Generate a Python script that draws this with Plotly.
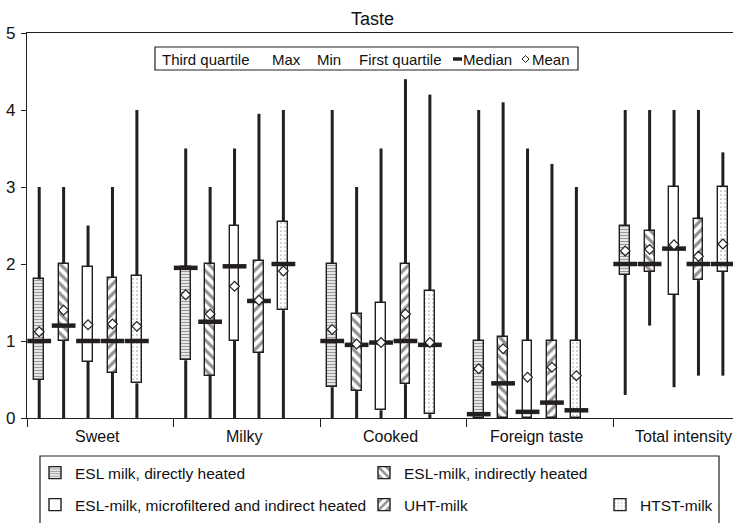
import plotly.graph_objects as go

# ---------------- data ----------------
categories = ["Sweet", "Milky", "Cooked", "Foreign taste", "Total intensity"]
series = ["ESL milk, directly heated", "ESL-milk, indirectly heated",
          "ESL-milk, microfiltered and indirect heated", "UHT-milk", "HTST-milk"]

esl_direct_max = [3.0, 3.5, 4.0, 4.0, 4.0]
esl_direct_q3 = [1.8, 1.96, 2.0, 1.0, 2.5]
esl_direct_med = [1.0, 1.95, 1.0, 0.05, 2.0]
esl_direct_mean = [1.12, 1.6, 1.15, 0.64, 2.17]
esl_direct_q1 = [0.5, 0.75, 0.4, 0.0, 1.86]
esl_direct_min = [0.0, 0.0, 0.0, 0.0, 0.3]

esl_indirect_max = [3.0, 3.0, 3.0, 4.1, 4.0]
esl_indirect_q3 = [2.0, 2.0, 1.35, 1.05, 2.43]
esl_indirect_med = [1.2, 1.25, 0.95, 0.45, 2.0]
esl_indirect_mean = [1.4, 1.35, 0.96, 0.9, 2.19]
esl_indirect_q1 = [1.0, 0.55, 0.35, 0.0, 1.9]
esl_indirect_min = [0.0, 0.0, 0.0, 0.0, 1.2]

micro_max = [2.5, 3.5, 3.5, 3.5, 4.0]
micro_q3 = [1.96, 2.5, 1.5, 1.0, 3.0]
micro_med = [1.0, 1.97, 0.98, 0.08, 2.2]
micro_mean = [1.21, 1.71, 0.98, 0.53, 2.25]
micro_q1 = [0.73, 1.0, 0.1, 0.0, 1.6]
micro_min = [0.0, 0.0, 0.0, 0.0, 0.4]

uht_max = [3.0, 3.95, 4.4, 3.3, 4.0]
uht_q3 = [1.82, 2.04, 2.0, 1.0, 2.58]
uht_med = [1.0, 1.52, 1.0, 0.2, 2.0]
uht_mean = [1.22, 1.53, 1.35, 0.66, 2.1]
uht_q1 = [0.59, 0.85, 0.44, 0.0, 1.79]
uht_min = [0.0, 0.0, 0.0, 0.0, 0.55]

htst_max = [4.0, 4.0, 4.2, 3.0, 3.45]
htst_q3 = [1.85, 2.55, 1.65, 1.0, 3.0]
htst_med = [1.0, 2.0, 0.95, 0.1, 2.0]
htst_mean = [1.19, 1.91, 0.98, 0.55, 2.26]
htst_q1 = [0.45, 1.4, 0.05, 0.0, 1.9]
htst_min = [0.0, 0.0, 0.0, 0.0, 0.55]

y_ticks = [0, 1, 2, 3, 4, 5]

stats = [
    (esl_direct_min, esl_direct_q1, esl_direct_med, esl_direct_mean, esl_direct_q3, esl_direct_max),
    (esl_indirect_min, esl_indirect_q1, esl_indirect_med, esl_indirect_mean, esl_indirect_q3, esl_indirect_max),
    (micro_min, micro_q1, micro_med, micro_mean, micro_q3, micro_max),
    (uht_min, uht_q1, uht_med, uht_mean, uht_q3, uht_max),
    (htst_min, htst_q1, htst_med, htst_mean, htst_q3, htst_max),
]

# ---------------- styles ----------------
INK = "#231f20"
FONT = "Arial, Liberation Sans, sans-serif"
patterns = [
    dict(shape="-", fgcolor="#333333", bgcolor="white", size=3, solidity=0.5),
    dict(shape="\\", fgcolor=INK, bgcolor="white", size=7, solidity=0.45),
    dict(shape="", fgcolor=INK, bgcolor="white"),
    dict(shape="/", fgcolor=INK, bgcolor="white", size=7, solidity=0.45),
    dict(shape=".", fgcolor="#555555", bgcolor="white", size=4, solidity=0.15),
]
SLOTS = 6  # slots per category (last one empty)

W, H = 734, 523
ML, MR, MT, MB = 27, 1, 33, 105
PW, PH = W - ML - MR, H - MT - MB
SLOT_PX = 146.5 / SLOTS


def px(x):
    return (x - ML) / PW


def py(y):
    return (H - MB - y) / PH


fig = go.Figure()
legend_names = ["legend", "legend2", "legend3", "legend4", "legend5"]

for j, (mn, q1, med, mean, q3, mx) in enumerate(stats):
    xs = [SLOTS * i + j + 0.5 for i in range(len(categories))]
    wx, wy = [], []
    for i, x in enumerate(xs):
        if q1[i] > mn[i]:
            wx += [x, x, None]
            wy += [mn[i], q1[i], None]
        wx += [x, x, None]
        wy += [q3[i], mx[i], None]
    fig.add_trace(go.Scatter(x=wx, y=wy, mode="lines", line=dict(color=INK, width=3),
                             showlegend=False, hoverinfo="skip"))
    fig.add_trace(go.Bar(
        x=xs, y=[q3[i] - q1[i] for i in range(len(xs))], base=q1, width=0.4,
        name=series[j], legend=legend_names[j],
        marker=dict(color="white", line=dict(color=INK, width=1.4), pattern=patterns[j]),
    ))

for j, (mn, q1, med, mean, q3, mx) in enumerate(stats):
    xs = [SLOTS * i + j + 0.5 for i in range(len(categories))]
    fig.add_trace(go.Scatter(x=xs, y=med, mode="markers",
                             marker=dict(symbol="line-ew", size=17, line=dict(color=INK, width=4.5)),
                             showlegend=False, hoverinfo="skip"))
    fig.add_trace(go.Scatter(x=xs, y=mean, mode="markers",
                             marker=dict(symbol="diamond", size=7.5, color="white",
                                         line=dict(color=INK, width=1.2)),
                             showlegend=False, hoverinfo="skip"))

n_slots_visible = PW / SLOT_PX
boundaries = [SLOTS * i for i in range(len(categories))]

annotations = []
for i, c in enumerate(categories):
    annotations.append(dict(x=SLOTS * i + SLOTS / 2, y=py(436), xref="x", yref="paper",
                            text=c, showarrow=False, font=dict(size=16, color="#111", family=FONT),
                            xanchor="center", yanchor="middle", xshift=-3))

top_items = [("Third quartile", 162), ("Max", 272), ("Min", 317), ("First quartile", 359),
             ("Median", 463), ("Mean", 532)]
for t, x0 in top_items:
    annotations.append(dict(x=px(x0), y=py(59), xref="paper", yref="paper", text=t, showarrow=False,
                            font=dict(size=15, color="#111", family=FONT), xanchor="left",
                            yanchor="middle", xshift=-2))
annotations.append(dict(x=px(372), y=py(19), xref="paper", yref="paper",
                        text="Taste", showarrow=False, font=dict(size=18, color="#111", family=FONT),
                        xanchor="center", yanchor="middle"))

shapes = [
    dict(type="rect", xref="paper", yref="paper", x0=px(155), x1=px(578), y0=py(47), y1=py(70),
         line=dict(color=INK, width=1.2), fillcolor="white", layer="above"),
    dict(type="line", xref="paper", yref="paper", x0=px(453), x1=px(462), y0=py(59), y1=py(59),
         line=dict(color=INK, width=3.5)),
    dict(type="path", xref="paper", yref="paper",
         path="M {a},{b} L {c},{d} L {e},{b} L {c},{f} Z".format(
             a=px(522), b=py(59), c=px(525.5), d=py(55.5), e=px(529), f=py(62.5)),
         line=dict(color=INK, width=1), fillcolor="white"),
    dict(type="rect", xref="paper", yref="paper", x0=px(40), x1=px(719), y0=py(456), y1=py(540),
         line=dict(color=INK, width=1.2), fillcolor="rgba(0,0,0,0)"),
]

legend_pos = [(35, 473), (364, 473), (35, 505), (364, 505), (600, 505)]
legend_layouts = {}
for j, (lx, ly) in enumerate(legend_pos):
    legend_layouts[legend_names[j]] = dict(
        x=px(lx), y=py(ly), xref="paper", yref="paper", xanchor="left", yanchor="middle",
        bgcolor="rgba(0,0,0,0)", borderwidth=0, font=dict(size=15.5, color="#111", family=FONT),
        itemclick=False, itemdoubleclick=False)

fig.update_layout(
    width=W, height=H, margin=dict(l=ML, r=MR, t=MT, b=MB, autoexpand=False),
    paper_bgcolor="white", plot_bgcolor="white", barmode="overlay", bargap=0,
    showlegend=True, annotations=annotations, shapes=shapes,
    font=dict(family=FONT, color="#111"),
    xaxis=dict(range=[0, n_slots_visible], tickmode="array", tickvals=boundaries,
               ticktext=["" for _ in boundaries], ticks="outside", ticklen=8, tickwidth=1,
               tickcolor=INK, showline=True, linecolor=INK, linewidth=1.3, mirror=True,
               showgrid=False, zeroline=False, fixedrange=True),
    yaxis=dict(range=[0, 5], tickmode="array", tickvals=y_ticks, ticks="outside", ticklen=5,
               tickwidth=1, tickcolor=INK, showline=True, linecolor=INK, linewidth=1.3,
               showgrid=False, zeroline=False, tickfont=dict(size=17, color="#111", family=FONT),
               ticklabelstandoff=2, fixedrange=True),
    **legend_layouts,
)

fig.write_html("out.html")
